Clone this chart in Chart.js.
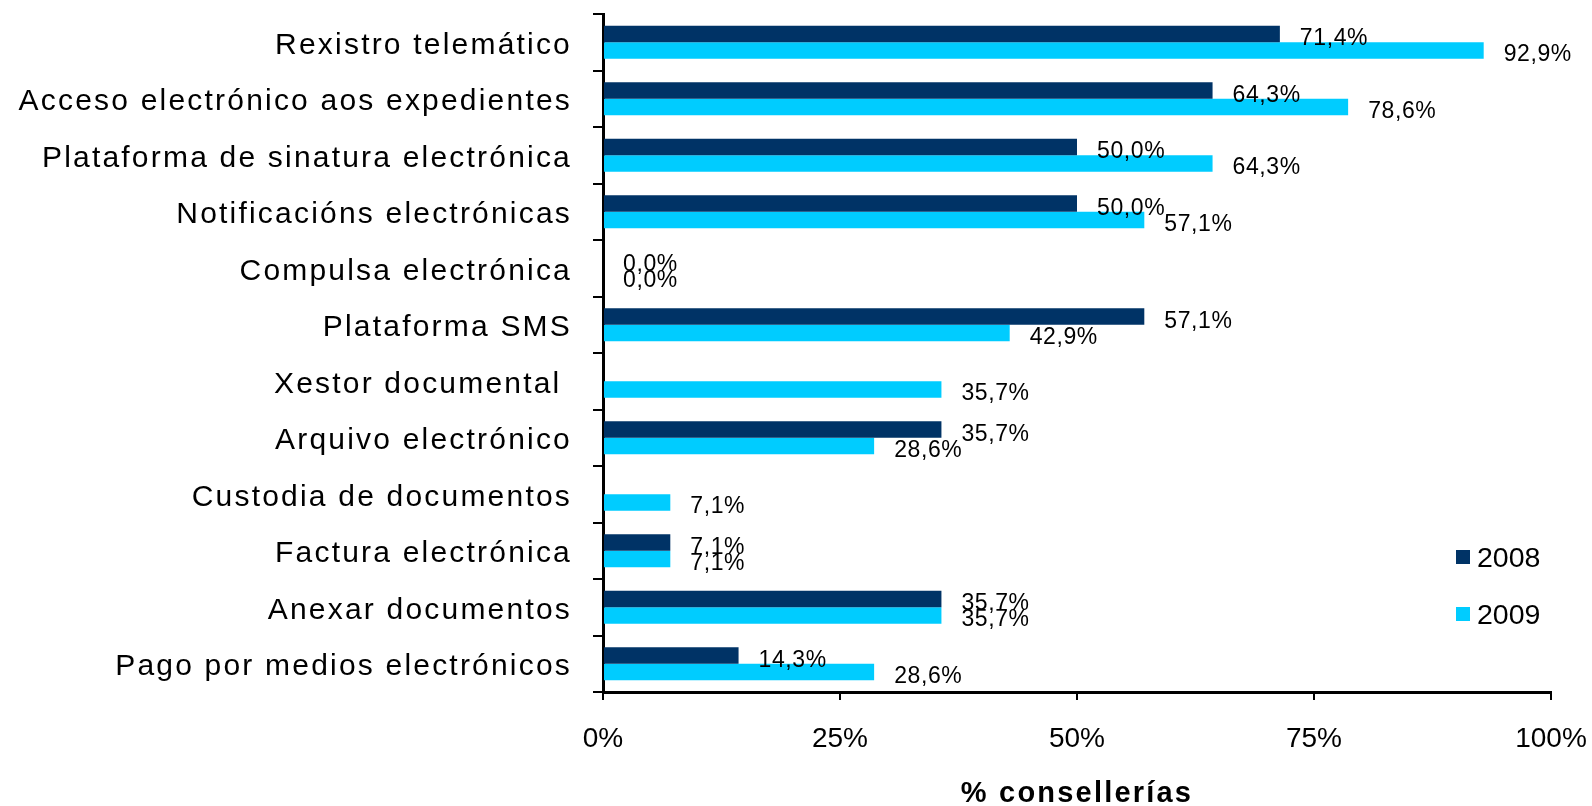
<!DOCTYPE html>
<html><head><meta charset="utf-8">
<script src="https://cdn.jsdelivr.net/npm/chart.js@4.4.1/dist/chart.umd.min.js"></script>
<style>html,body{margin:0;padding:0;background:#fff;overflow:hidden}</style>
</head><body>
<canvas id="c" width="1592" height="806"></canvas>
<script>
const categories = [
  'Rexistro telemático',
  'Acceso electrónico aos expedientes',
  'Plataforma de sinatura electrónica',
  'Notificacións electrónicas',
  'Compulsa electrónica',
  'Plataforma SMS',
  'Xestor documental ',
  'Arquivo electrónico',
  'Custodia de documentos',
  'Factura electrónica',
  'Anexar documentos',
  'Pago por medios electrónicos'
];
const seriesNames = ['2008', '2009'];
const values2008 = [71.4, 64.3, 50.0, 50.0, 0.0, 57.1, null, 35.7, null, 7.1, 35.7, 14.3];
const values2009 = [92.9, 78.6, 64.3, 57.1, 0.0, 42.9, 35.7, 28.6, 7.1, 7.1, 35.7, 28.6];
const xTickValues = [0, 25, 50, 75, 100];
const axisTitle = '% consellerías';

const FONT = "'Liberation Sans', Arial, sans-serif";
const colors = ['#003366', '#00CCFF'];

const spacingPlugin = {
  id: 'spacing',
  beforeDraw(chart) { chart.ctx.letterSpacing = '2.2px'; },
  beforeDatasetsDraw(chart) { chart.ctx.letterSpacing = '0px'; },
  afterDatasetsDraw(chart) {
    const ctx = chart.ctx;
    ctx.save();
    ctx.letterSpacing = '0.6px';
    ctx.font = '23px ' + FONT;
    ctx.fillStyle = '#000';
    ctx.textAlign = 'left';
    ctx.textBaseline = 'alphabetic';
    chart.data.datasets.forEach((ds, di) => {
      const meta = chart.getDatasetMeta(di);
      meta.data.forEach((el, i) => {
        const v = ds.data[i];
        if (v === null || v === undefined) return;
        const txt = v.toFixed(1).replace('.', ',') + '%';
        ctx.fillText(txt, el.x + 20, el.y + 11);
      });
    });
    ctx.restore();
    ctx.letterSpacing = '0px';
  },
  afterDraw(chart) {
    const ctx = chart.ctx;
    const ca = chart.chartArea;
    ctx.save();
    ctx.letterSpacing = '0px';
    ctx.font = '28.5px ' + FONT;
    ctx.textBaseline = 'alphabetic';
    ctx.textAlign = 'left';
    chart.data.datasets.forEach((ds, i) => {
      const x0 = ca.right - 95;
      const y0 = ca.bottom - 142 + i * 57;
      ctx.fillStyle = ds.backgroundColor;
      ctx.fillRect(x0, y0, 14, 14);
      ctx.fillStyle = '#000';
      ctx.fillText(ds.label, x0 + 21, y0 + 17);
    });
    ctx.restore();
  }
};

new Chart(document.getElementById('c'), {
  type: 'bar',
  data: {
    labels: categories,
    datasets: [
      { label: seriesNames[0], data: values2008, backgroundColor: colors[0] },
      { label: seriesNames[1], data: values2009, backgroundColor: colors[1] }
    ]
  },
  options: {
    indexAxis: 'y',
    responsive: false,
    animation: false,
    devicePixelRatio: 1,
    categoryPercentage: 0.584,
    barPercentage: 1.0,
    layout: { padding: { top: 14, right: 41, left: 0, bottom: 0 } },
    plugins: { legend: { display: false }, tooltip: { enabled: false } },
    scales: {
      y: {
        type: 'category',
        position: 'left',
        grid: { drawOnChartArea: false, drawTicks: true, tickLength: 10, color: '#000', lineWidth: 2, offset: true },
        border: { display: true, color: '#000', width: 3 },
        ticks: { color: '#000', font: { family: FONT, size: 30 }, padding: 21, autoSkip: false, labelOffset: 3 },
        afterFit(scale) { scale.width = 603; scale.paddingTop = 0; scale.paddingBottom = 0; }
      },
      x: {
        type: 'linear',
        position: 'bottom',
        min: 0, max: 100,
        afterBuildTicks(scale) { scale.ticks = xTickValues.map(v => ({ value: v })); },
        grid: { drawOnChartArea: false, drawTicks: true, tickLength: 8, color: '#000', lineWidth: 2 },
        border: { display: true, color: '#000', width: 3 },
        ticks: { color: '#000', font: { family: FONT, size: 28 }, padding: 22, z: 1, maxRotation: 0,
                 callback: v => v + '%' },
        title: { display: true, text: axisTitle, color: '#000', font: { family: FONT, size: 29, weight: 'bold' }, padding: { top: 0, bottom: -5 } },
        afterFit(scale) { scale.height = 114; scale.paddingLeft = 0; scale.paddingRight = 0; }
      }
    }
  },
  plugins: [spacingPlugin]
});
</script>
</body></html>
